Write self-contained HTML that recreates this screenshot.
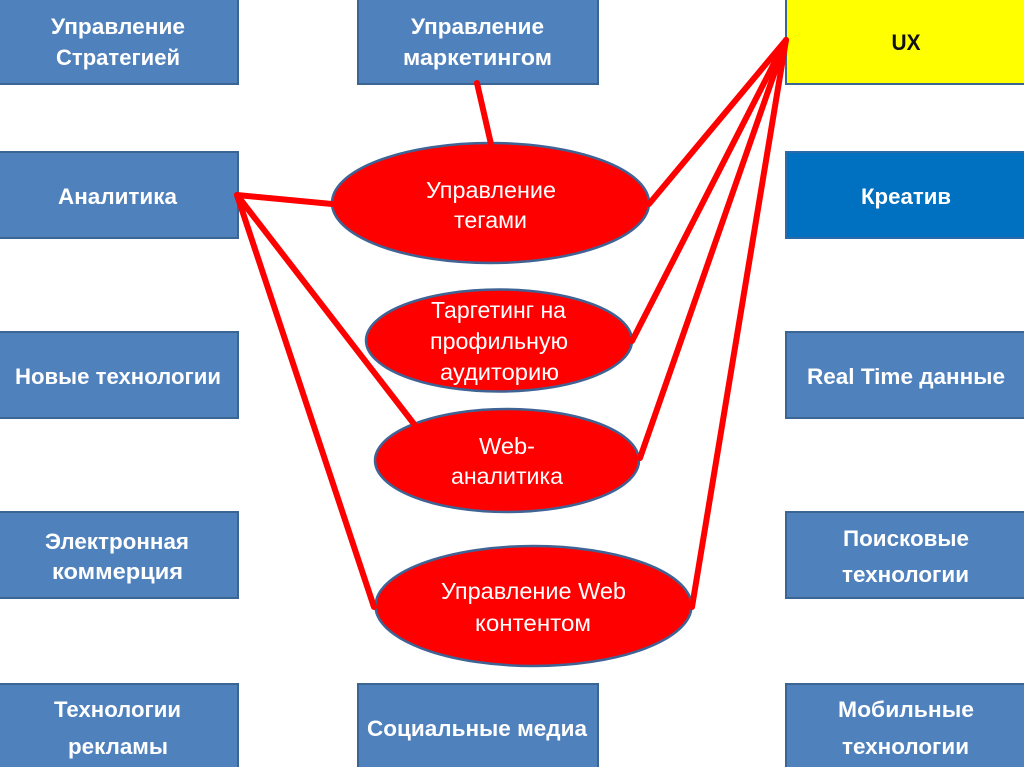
<!DOCTYPE html>
<html><head><meta charset="utf-8">
<style>
html,body{margin:0;padding:0;background:#fff;}
svg{display:block;}
text{font-family:"Liberation Sans","DejaVu Sans",sans-serif;text-anchor:middle;}
.b{font-weight:bold;fill:#fff;font-size:22.5px;}
.e{fill:#fff;font-size:23.5px;}
.r{fill:#4f81bd;stroke:#3b6593;stroke-width:2;}
.o{fill:#ff0000;stroke:#3f6394;stroke-width:2.5;}
.l{stroke:#ff0000;stroke-width:6;fill:none;stroke-linecap:round;}
</style></head><body>
<svg width="1024" height="767" viewBox="0 0 1024 767" xmlns="http://www.w3.org/2000/svg">
<rect width="1024" height="767" fill="#fff"/>
<rect class="r" x="-3" y="-3" width="241" height="87"/>
<rect class="r" x="358" y="-3" width="240" height="87"/>
<rect x="786" y="-3" width="241" height="87" fill="#ffff00" stroke="#3b6593" stroke-width="2"/>
<rect class="r" x="-3" y="152" width="241" height="86"/>
<rect x="786" y="152" width="241" height="86" fill="#0070c0" stroke="#2a6aa8" stroke-width="2"/>
<rect class="r" x="-3" y="332" width="241" height="86"/>
<rect class="r" x="786" y="332" width="241" height="86"/>
<rect class="r" x="-3" y="512" width="241" height="86"/>
<rect class="r" x="786" y="512" width="241" height="86"/>
<rect class="r" x="-3" y="684" width="241" height="86"/>
<rect class="r" x="358" y="684" width="240" height="86"/>
<rect class="r" x="786" y="684" width="241" height="86"/>

<ellipse class="o" cx="490.5" cy="203" rx="158.5" ry="60"/>
<ellipse class="o" cx="499" cy="340.5" rx="133" ry="51"/>
<ellipse class="o" cx="507" cy="460.5" rx="132" ry="51.5"/>
<ellipse class="o" cx="533.5" cy="606" rx="158" ry="60"/>

<path class="l" d="M477 83L491 144"/>
<path class="l" d="M237 195L332 204"/>
<path class="l" d="M237 195L414 424"/>
<path class="l" d="M237 195L374 607"/>
<path class="l" d="M786 40L649 204"/>
<path class="l" d="M786 40L632 341"/>
<path class="l" d="M786 40L640 458"/>
<path class="l" d="M786 40L692 607"/>

<text class="b" x="118" y="34" textLength="134" lengthAdjust="spacingAndGlyphs">Управление</text>
<text class="b" x="118" y="65" textLength="124" lengthAdjust="spacingAndGlyphs">Стратегией</text>
<text class="b" x="477.5" y="34" textLength="133" lengthAdjust="spacingAndGlyphs">Управление</text>
<text class="b" x="477.5" y="65" textLength="149" lengthAdjust="spacingAndGlyphs">маркетингом</text>
<text class="b" x="906" y="50" textLength="29" lengthAdjust="spacingAndGlyphs" style="fill:#111;font-size:22px">UX</text>
<text class="b" x="117.5" y="204" textLength="119" lengthAdjust="spacingAndGlyphs">Аналитика</text>
<text class="b" x="906" y="204" textLength="90" lengthAdjust="spacingAndGlyphs">Креатив</text>
<text class="b" x="118" y="384" textLength="206" lengthAdjust="spacingAndGlyphs">Новые технологии</text>
<text class="b" x="906" y="384" textLength="198" lengthAdjust="spacingAndGlyphs">Real Time данные</text>
<text class="b" x="117" y="549" textLength="144" lengthAdjust="spacingAndGlyphs">Электронная</text>
<text class="b" x="117.5" y="579" textLength="131" lengthAdjust="spacingAndGlyphs">коммерция</text>
<text class="b" x="906" y="546" textLength="126" lengthAdjust="spacingAndGlyphs">Поисковые</text>
<text class="b" x="905.5" y="582" textLength="127" lengthAdjust="spacingAndGlyphs">технологии</text>
<text class="b" x="117.5" y="717" textLength="127" lengthAdjust="spacingAndGlyphs">Технологии</text>
<text class="b" x="118" y="754" textLength="100" lengthAdjust="spacingAndGlyphs">рекламы</text>
<text class="b" x="477" y="736" textLength="220" lengthAdjust="spacingAndGlyphs">Социальные медиа</text>
<text class="b" x="906" y="717" textLength="136" lengthAdjust="spacingAndGlyphs">Мобильные</text>
<text class="b" x="905.5" y="754" textLength="127" lengthAdjust="spacingAndGlyphs">технологии</text>

<text class="e" x="491" y="198" textLength="130" lengthAdjust="spacingAndGlyphs">Управление</text>
<text class="e" x="490.5" y="228" textLength="73" lengthAdjust="spacingAndGlyphs">тегами</text>
<text class="e" x="498.5" y="318" textLength="135" lengthAdjust="spacingAndGlyphs">Таргетинг на</text>
<text class="e" x="499" y="349" textLength="138" lengthAdjust="spacingAndGlyphs">профильную</text>
<text class="e" x="499.5" y="380" textLength="119" lengthAdjust="spacingAndGlyphs">аудиторию</text>
<text class="e" x="507" y="454" textLength="56" lengthAdjust="spacingAndGlyphs">Web-</text>
<text class="e" x="507" y="484" textLength="112" lengthAdjust="spacingAndGlyphs">аналитика</text>
<text class="e" x="533.5" y="599" textLength="185" lengthAdjust="spacingAndGlyphs">Управление Web</text>
<text class="e" x="533" y="631" textLength="116" lengthAdjust="spacingAndGlyphs">контентом</text>
</svg>
</body></html>
